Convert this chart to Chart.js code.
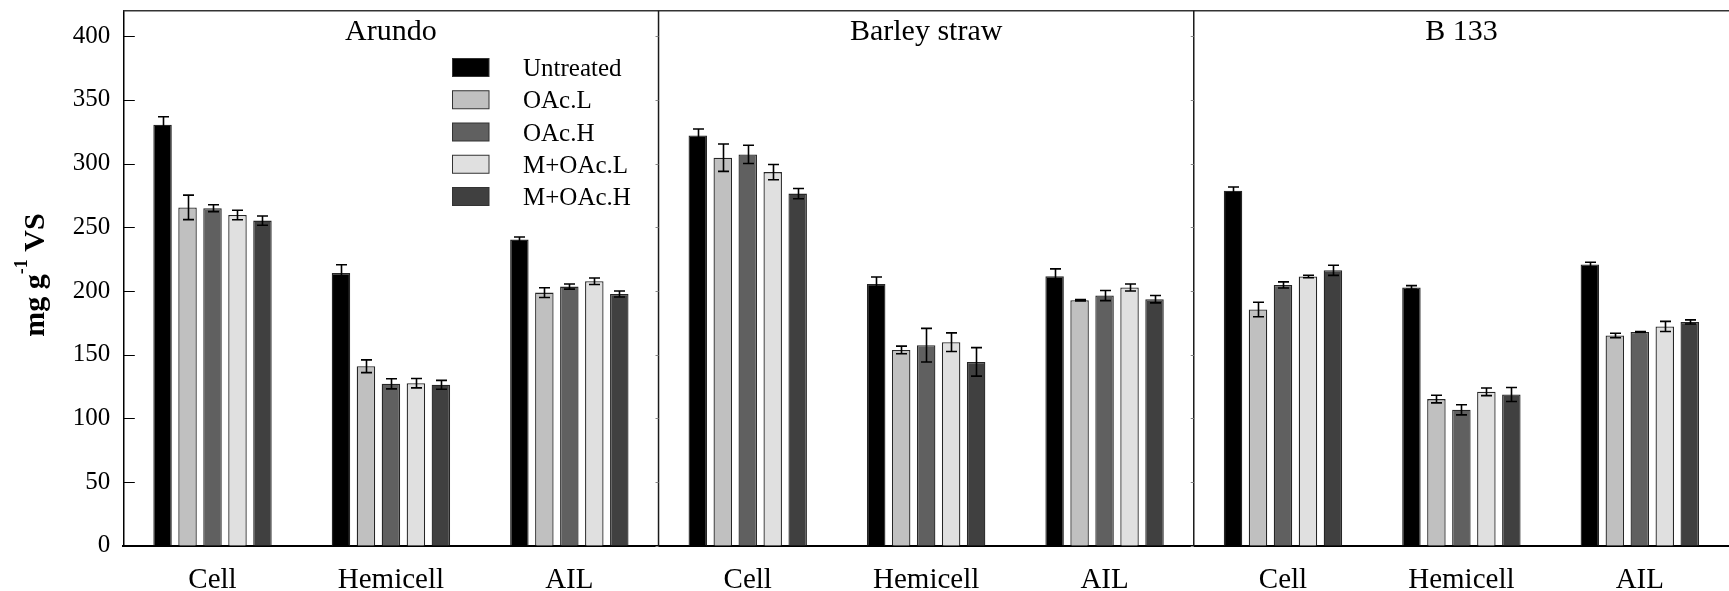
<!DOCTYPE html>
<html>
<head>
<meta charset="utf-8">
<script src="https://cdn.jsdelivr.net/npm/chart.js@4/dist/chart.umd.min.js"></script>
<style>
  html, body { margin: 0; padding: 0; background: #fff; }
  #wrap { width: 1729px; height: 591px; }
</style>
</head>
<body>
<div id="wrap"><canvas id="c" width="1729" height="591"></canvas></div>
<script>
// Feedstocks (panels) and fibre fractions (categories inside each panel)
const feedstocks = ['Arundo', 'Barley straw', 'B 133'];
const fractions = ['Cell', 'Hemicell', 'AIL'];
const seriesNames = ['Untreated', 'OAc.L', 'OAc.H', 'M+OAc.L', 'M+OAc.H'];

// Values in mg g-1 VS, ordered Arundo (Cell, Hemicell, AIL), Barley straw (...), B 133 (...)
const untreated = [330.5, 214.0, 240.3, 322.1, 205.5, 211.5, 278.7, 202.7, 220.7];
const oacL      = [265.6, 140.9, 198.7, 304.6, 153.7, 192.7, 185.4, 115.1, 165.0];
const oacH      = [265.0, 127.1, 203.4, 307.2, 157.4, 196.4, 204.7, 106.7, 167.8];
const mOacL     = [259.6, 127.6, 207.6, 293.3, 159.8, 202.7, 211.3, 120.8, 172.1];
const mOacH     = [255.2, 126.3, 197.6, 276.4, 144.3, 193.5, 216.2, 118.7, 175.7];

// Standard deviations, same ordering
const untreatedErr = [6.3, 6.6, 2.0, 5.0, 5.5, 5.8, 2.9, 1.5, 1.8];
const oacLErr      = [9.6, 5.0, 3.8, 10.7, 3.0, 0.5, 5.7, 3.0, 1.8];
const oacHErr      = [2.7, 4.0, 2.0, 7.2, 13.2, 4.0, 2.4, 4.0, 0.3];
const mOacLErr     = [3.7, 3.7, 2.5, 6.0, 7.3, 2.8, 1.0, 3.0, 4.0];
const mOacHErr     = [3.6, 3.5, 2.4, 4.0, 11.2, 2.9, 4.0, 5.5, 1.6];

// Y axis range and tick step
const yMin = 0, yMax = 420, yStep = 50;

const seriesValues = [untreated, oacL, oacH, mOacL, mOacH];
const seriesErrors = [untreatedErr, oacLErr, oacHErr, mOacLErr, mOacHErr];
const seriesFills = ['#000000', '#c0c0c0', '#606060', '#e0e0e0', '#404040'];

const FONT = "'Liberation Serif', 'Times New Roman', serif";
const labels = feedstocks.flatMap(() => fractions);

const datasets = seriesNames.map((name, i) => ({
  label: name,
  data: seriesValues[i],
  errors: seriesErrors[i],
  backgroundColor: seriesFills[i],
  borderColor: '#262626',
  borderWidth: 1.3,
  borderSkipped: 'bottom',
  categoryPercentage: 0.70,
  barPercentage: 0.74
}));

// Error bars, inner axis ticks, panel dividers, panel titles, legend and axis title
const decorations = {
  id: 'decorations',
  afterDatasetsDraw(chart) {
    const ctx = chart.ctx;
    const y = chart.scales.y;
    ctx.save();
    ctx.strokeStyle = '#000';
    ctx.lineWidth = 1.6;
    chart.data.datasets.forEach((ds, i) => {
      const meta = chart.getDatasetMeta(i);
      meta.data.forEach((bar, j) => {
        const v = ds.data[j], e = ds.errors[j];
        const top = y.getPixelForValue(v + e);
        const bot = y.getPixelForValue(v - e);
        const cx = Math.round(bar.x) + 0.5;
        ctx.beginPath();
        ctx.moveTo(cx, top); ctx.lineTo(cx, bot);
        ctx.moveTo(cx - 5.5, top); ctx.lineTo(cx + 5.5, top);
        ctx.moveTo(cx - 5.5, bot); ctx.lineTo(cx + 5.5, bot);
        ctx.stroke();
      });
    });
    ctx.restore();
  },
  afterDraw(chart) {
    const ctx = chart.ctx;
    const area = chart.chartArea;
    const x = chart.scales.x, y = chart.scales.y;
    ctx.save();

    // frame top line
    ctx.strokeStyle = '#333';
    ctx.lineWidth = 1.5;
    ctx.beginPath();
    ctx.moveTo(area.left, area.top); ctx.lineTo(area.right, area.top);
    ctx.stroke();

    // inward y ticks on the main axis
    ctx.strokeStyle = '#000';
    ctx.lineWidth = 1;
    y.ticks.forEach(t => {
      const py = Math.round(y.getPixelForValue(t.value)) + 0.5;
      ctx.beginPath();
      ctx.moveTo(area.left, py); ctx.lineTo(area.left + 11.5, py);
      ctx.stroke();
    });

    // panel dividers
    const n = fractions.length;
    const bounds = [area.left];
    for (let p = 1; p < feedstocks.length; p++) {
      const a = x.getPixelForValue(p * n - 1), b = x.getPixelForValue(p * n);
      bounds.push((a + b) / 2);
    }
    bounds.push(area.right);
    for (let p = 1; p < feedstocks.length; p++) {
      const dx = bounds[p];
      ctx.strokeStyle = '#1a1a1a';
      ctx.lineWidth = 1.5;
      ctx.beginPath();
      ctx.moveTo(dx, area.top); ctx.lineTo(dx, area.bottom);
      ctx.stroke();
      ctx.strokeStyle = '#888';
      ctx.lineWidth = 1;
      y.ticks.forEach(t => {
        const py = Math.round(y.getPixelForValue(t.value)) + 0.5;
        ctx.beginPath();
        ctx.moveTo(dx - 3, py); ctx.lineTo(dx, py);
        ctx.stroke();
      });
    }

    // panel titles
    ctx.fillStyle = '#000';
    ctx.font = '30px ' + FONT;
    ctx.textAlign = 'center';
    ctx.textBaseline = 'alphabetic';
    feedstocks.forEach((name, p) => {
      ctx.fillText(name, (bounds[p] + bounds[p + 1]) / 2, 39.5);
    });

    // legend
    ctx.font = '25px ' + FONT;
    ctx.textAlign = 'left';
    chart.data.datasets.forEach((ds, i) => {
      const by = 58.5 + i * 32.25;
      ctx.fillStyle = ds.backgroundColor;
      ctx.fillRect(452.5, by, 36.5, 18);
      ctx.strokeStyle = '#333';
      ctx.lineWidth = 1;
      ctx.strokeRect(452.5, by, 36.5, 18);
      ctx.fillStyle = '#000';
      ctx.fillText(ds.label, 523, by + 17.5);
    });

    // y axis title with superscript
    const mainFont = 'bold 30px ' + FONT;
    const supFont = 'bold 18px ' + FONT;
    const parts = [['mg g', mainFont, 0], ['-1', supFont, -17], [' VS', mainFont, 0]];
    let total = 0;
    parts.forEach(p => { ctx.font = p[1]; total += ctx.measureText(p[0]).width; });
    ctx.translate(43.5, 275);
    ctx.rotate(-Math.PI / 2);
    let ox = -total / 2;
    parts.forEach(p => {
      ctx.font = p[1];
      ctx.fillText(p[0], ox, p[2]);
      ox += ctx.measureText(p[0]).width;
    });
    ctx.restore();
  }
};

new Chart(document.getElementById('c'), {
  type: 'bar',
  data: { labels, datasets },
  options: {
    responsive: false,
    animation: false,
    layout: { padding: { top: 10.7, right: 0, left: 0, bottom: 0 } },
    plugins: { legend: { display: false }, tooltip: { enabled: false } },
    scales: {
      x: {
        grid: { display: false, drawTicks: false },
        border: { display: true, color: '#000', width: 2 },
        ticks: {
          font: { family: FONT, size: 29 },
          color: '#000',
          padding: 17,
          autoSkip: false,
          maxRotation: 0
        },
        afterFit(s) {
          s.height = 45.3;
          s.paddingLeft = 0; s.paddingRight = 0;
        }
      },
      y: {
        min: yMin,
        max: yMax,
        grid: { display: false, drawTicks: false },
        border: { display: true, color: '#000', width: 1.5 },
        ticks: {
          stepSize: yStep,
          includeBounds: false,
          font: { family: FONT, size: 25 },
          color: '#000',
          padding: 13
        },
        afterFit(s) {
          s.width = 123.3;
          s.paddingTop = 0; s.paddingBottom = 0;
        }
      }
    }
  },
  plugins: [decorations]
});
</script>
</body>
</html>
